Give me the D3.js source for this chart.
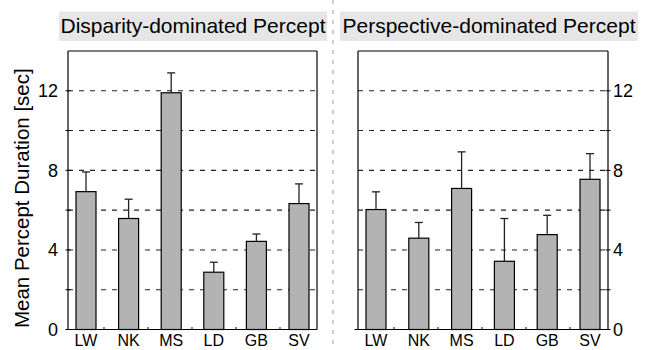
<!DOCTYPE html>
<html>
<head>
<meta charset="utf-8">
<script src="https://cdn.jsdelivr.net/npm/d3@7"></script>
<style>
  body { margin: 0; background: #fff; }
  text { font-family: Helvetica, Arial, "Liberation Sans", sans-serif; fill: #000; }
</style>
</head>
<body>
<script>
// data
var subjects = ["LW", "NK", "MS", "LD", "GB", "SV"];
var disparityMean = [6.93, 5.58, 11.9, 2.88, 4.43, 6.33];
var disparityErr = [7.92, 6.55, 12.9, 3.38, 4.8, 7.32];
var perspectiveMean = [6.03, 4.59, 7.09, 3.43, 4.77, 7.55];
var perspectiveErr = [6.92, 5.38, 8.93, 5.58, 5.74, 8.84];
var gridValues = [2, 4, 6, 8, 10, 12];
var labelValues = [0, 4, 8, 12];
var panelTitles = ["Disparity-dominated Percept", "Perspective-dominated Percept"];

var width = 652, height = 350;

var svg = d3.select("body").append("svg")
  .attr("width", width)
  .attr("height", height);

var y = d3.scaleLinear().domain([0, 14]).range([329.5, 51]);

var panels = [
  {title: panelTitles[0], mean: disparityMean, err: disparityErr, x0: 68, x1: 317, side: "left",
   titleBox: [59, 327]},
  {title: panelTitles[1], mean: perspectiveMean, err: perspectiveErr, x0: 358, x1: 608, side: "right",
   titleBox: [340, 638]}
];

// divider between the two panels
svg.append("line")
  .attr("x1", 333).attr("x2", 333)
  .attr("y1", 0).attr("y2", height)
  .attr("stroke", "#999")
  .attr("stroke-width", 1)
  .attr("stroke-dasharray", "4,6");

panels.forEach(function(p) {
  var x = d3.scalePoint().domain(subjects).range([p.x0 + 18, p.x1 - 18]);
  var minor = d3.scaleLinear().domain([0, 6]).range([p.x0 - 8, p.x0 + 256]);
  var g = svg.append("g");

  // title with grey background
  g.append("rect")
    .attr("x", p.titleBox[0]).attr("y", 11.5)
    .attr("width", p.titleBox[1] - p.titleBox[0]).attr("height", 29.5)
    .attr("fill", "#e6e6e6");
  g.append("text")
    .attr("x", (p.titleBox[0] + p.titleBox[1]) / 2)
    .attr("y", 33)
    .attr("text-anchor", "middle")
    .style("font-size", "21px")
    .text(p.title);

  // dashed grid
  g.selectAll(".grid")
    .data(gridValues)
    .enter().append("line")
    .attr("class", "grid")
    .attr("x1", p.x0).attr("x2", p.x1)
    .attr("y1", function(d) { return y(d); })
    .attr("y2", function(d) { return y(d); })
    .attr("stroke", "#222")
    .attr("stroke-width", 1.1)
    .attr("stroke-dasharray", "5,6");

  // bars
  g.selectAll(".bar")
    .data(p.mean)
    .enter().append("rect")
    .attr("class", "bar")
    .attr("x", function(d, i) { return x(subjects[i]) - 10; })
    .attr("y", function(d) { return y(d); })
    .attr("width", 20)
    .attr("height", function(d) { return y(0) - y(d); })
    .attr("fill", "#b3b3b3")
    .attr("stroke", "#000")
    .attr("stroke-width", 1.2);

  // error bars (upper only)
  var eb = g.selectAll(".err")
    .data(p.err)
    .enter().append("g")
    .attr("class", "err");
  eb.append("line")
    .attr("x1", function(d, i) { return x(subjects[i]); })
    .attr("x2", function(d, i) { return x(subjects[i]); })
    .attr("y1", function(d, i) { return y(p.mean[i]); })
    .attr("y2", function(d) { return y(d); })
    .attr("stroke", "#222")
    .attr("stroke-width", 1.3);
  eb.append("line")
    .attr("x1", function(d, i) { return x(subjects[i]) - 4; })
    .attr("x2", function(d, i) { return x(subjects[i]) + 4; })
    .attr("y1", function(d) { return y(d); })
    .attr("y2", function(d) { return y(d); })
    .attr("stroke", "#222")
    .attr("stroke-width", 1.3);

  // frame
  var axisX = p.side == "left" ? p.x0 : p.x1;
  g.append("line")
    .attr("x1", p.side == "left" ? p.x0 - 2.5 : p.x0 - 3.5)
    .attr("x2", p.side == "left" ? p.x1 : p.x1 + 2.5)
    .attr("y1", y(0)).attr("y2", y(0))
    .attr("stroke", "#000").attr("stroke-width", 1.2);
  g.append("line")
    .attr("x1", p.x0).attr("x2", p.x1)
    .attr("y1", y(14)).attr("y2", y(14))
    .attr("stroke", "#000").attr("stroke-width", 1.2);
  g.append("line")
    .attr("x1", p.x0).attr("x2", p.x0)
    .attr("y1", y(0)).attr("y2", y(14))
    .attr("stroke", "#000").attr("stroke-width", 1.2);
  g.append("line")
    .attr("x1", p.x1).attr("x2", p.x1)
    .attr("y1", y(0)).attr("y2", y(14))
    .attr("stroke", "#000").attr("stroke-width", 1.2);

  // y ticks every 2
  g.selectAll(".ytick")
    .data(gridValues)
    .enter().append("line")
    .attr("class", "ytick")
    .attr("x1", axisX - 2.5).attr("x2", axisX + 2.5)
    .attr("y1", function(d) { return y(d); })
    .attr("y2", function(d) { return y(d); })
    .attr("stroke", "#000").attr("stroke-width", 1);

  // y labels
  g.selectAll(".ylab")
    .data(labelValues)
    .enter().append("text")
    .attr("class", "ylab")
    .attr("x", p.side == "left" ? axisX - 10 : axisX + 5)
    .attr("y", function(d) { return y(d); })
    .attr("dy", "0.36em")
    .attr("text-anchor", p.side == "left" ? "end" : "start")
    .style("font-size", "18px")
    .text(function(d) { return d; });

  // small inward ticks on the bottom axis
  g.selectAll(".xtick")
    .data(d3.range(1, 6))
    .enter().append("line")
    .attr("class", "xtick")
    .attr("x1", function(d) { return minor(d); })
    .attr("x2", function(d) { return minor(d); })
    .attr("y1", y(0)).attr("y2", y(0) - 2.5)
    .attr("stroke", "#000").attr("stroke-width", 1);

  // category labels
  g.selectAll(".xlab")
    .data(subjects)
    .enter().append("text")
    .attr("class", "xlab")
    .attr("x", function(d) { return x(d); })
    .attr("y", 346)
    .attr("text-anchor", "middle")
    .style("font-size", "16px")
    .text(function(d) { return d; });
});

// y axis title
svg.append("text")
  .attr("transform", "translate(29," + y(6.6) + ") rotate(-90)")
  .attr("text-anchor", "middle")
  .style("font-size", "20.5px")
  .text("Mean Percept Duration [sec]");
</script>
</body>
</html>
